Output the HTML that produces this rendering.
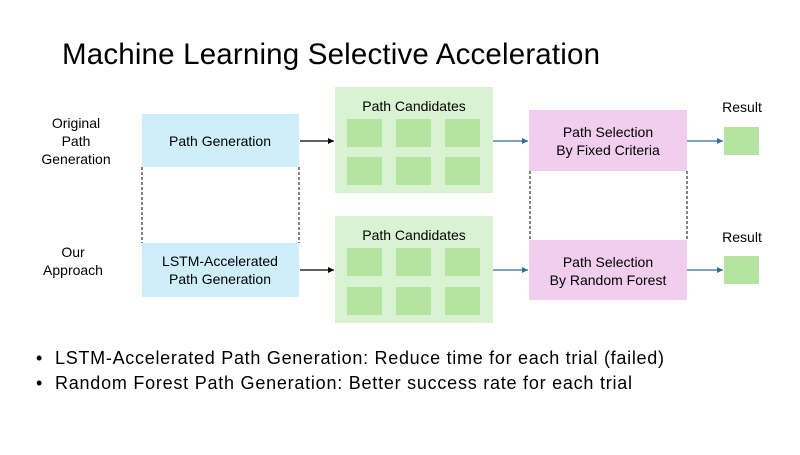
<!DOCTYPE html>
<html><head><style>
body{margin:0;width:800px;height:450px;background:#fff;overflow:hidden;font-family:"Liberation Sans",sans-serif}
</style></head><body>
<svg width="800" height="450" xmlns="http://www.w3.org/2000/svg" font-family="Liberation Sans, sans-serif">
<defs>
<marker id="ab" markerWidth="6" markerHeight="6" refX="5" refY="3" orient="auto"><path d="M0,0.5 L5,3 L0,5.5z" fill="#000"/></marker>
<marker id="bl" markerWidth="6" markerHeight="6" refX="5" refY="3" orient="auto"><path d="M0,0.5 L5,3 L0,5.5z" fill="#2e6e93"/></marker>
</defs>
<text x="62" y="64" font-size="29.5" fill="#000" textLength="538" lengthAdjust="spacing">Machine Learning Selective Acceleration</text>
<g font-size="14" fill="#000" text-anchor="middle">
<text x="76" y="128">Original</text><text x="76" y="146">Path</text><text x="76" y="164">Generation</text>
<text x="73" y="257">Our</text><text x="73" y="275">Approach</text>
</g>
<rect x="142" y="114" width="157" height="53" fill="#cdeefa"/>
<rect x="142" y="243" width="157" height="54" fill="#cdeefa"/>
<g font-size="14" text-anchor="middle"><text x="220" y="146">Path Generation</text>
<text x="220" y="266">LSTM-Accelerated</text><text x="220" y="284">Path Generation</text></g>
<g stroke="#333" stroke-dasharray="3,2" stroke-width="1.2">
<line x1="142" y1="167" x2="142" y2="243"/><line x1="299" y1="167" x2="299" y2="243"/>
<line x1="530" y1="171" x2="530" y2="240"/><line x1="687" y1="171" x2="687" y2="240"/>
</g>
<g fill="#d9f2d1"><rect x="335" y="87" width="158" height="106"/><rect x="335" y="216" width="158" height="107"/></g>
<g fill="#b5e4a1">
<rect x="347" y="119" width="35" height="28"/><rect x="396" y="119" width="35" height="28"/><rect x="445" y="119" width="35" height="28"/>
<rect x="347" y="157" width="35" height="28"/><rect x="396" y="157" width="35" height="28"/><rect x="445" y="157" width="35" height="28"/>
<rect x="347" y="248" width="35" height="28"/><rect x="396" y="248" width="35" height="28"/><rect x="445" y="248" width="35" height="28"/>
<rect x="347" y="287" width="35" height="28"/><rect x="396" y="287" width="35" height="28"/><rect x="445" y="287" width="35" height="28"/>
<rect x="724" y="127" width="35" height="28"/><rect x="724" y="256" width="35" height="28"/>
</g>
<g font-size="14" text-anchor="middle"><text x="414" y="111">Path Candidates</text><text x="414" y="240">Path Candidates</text>
<text x="742" y="112">Result</text><text x="742" y="242">Result</text></g>
<rect x="529" y="110" width="158" height="61" fill="#f1cdee"/>
<rect x="529" y="240" width="158" height="60" fill="#f1cdee"/>
<g font-size="14" text-anchor="middle"><text x="608" y="137">Path Selection</text><text x="608" y="155">By Fixed Criteria</text>
<text x="608" y="267">Path Selection</text><text x="608" y="285">By Random Forest</text></g>
<g stroke-width="1.2">
<line x1="300" y1="141" x2="334" y2="141" stroke="#000" marker-end="url(#ab)"/>
<line x1="300" y1="270" x2="334" y2="270" stroke="#000" marker-end="url(#ab)"/>
<line x1="493" y1="141" x2="528" y2="141" stroke="#2e6e93" marker-end="url(#bl)"/>
<line x1="493" y1="270" x2="528" y2="270" stroke="#2e6e93" marker-end="url(#bl)"/>
<line x1="687" y1="141" x2="723" y2="141" stroke="#2e6e93" marker-end="url(#bl)"/>
<line x1="687" y1="270" x2="723" y2="270" stroke="#2e6e93" marker-end="url(#bl)"/>
</g>
<g font-size="18"><text x="36" y="364">•</text><text x="55" y="364" textLength="609" lengthAdjust="spacing">LSTM-Accelerated Path Generation: Reduce time for each trial (failed)</text>
<text x="36" y="389">•</text><text x="55" y="389" textLength="577" lengthAdjust="spacing">Random Forest Path Generation: Better success rate for each trial</text></g>
</svg>
</body></html>
